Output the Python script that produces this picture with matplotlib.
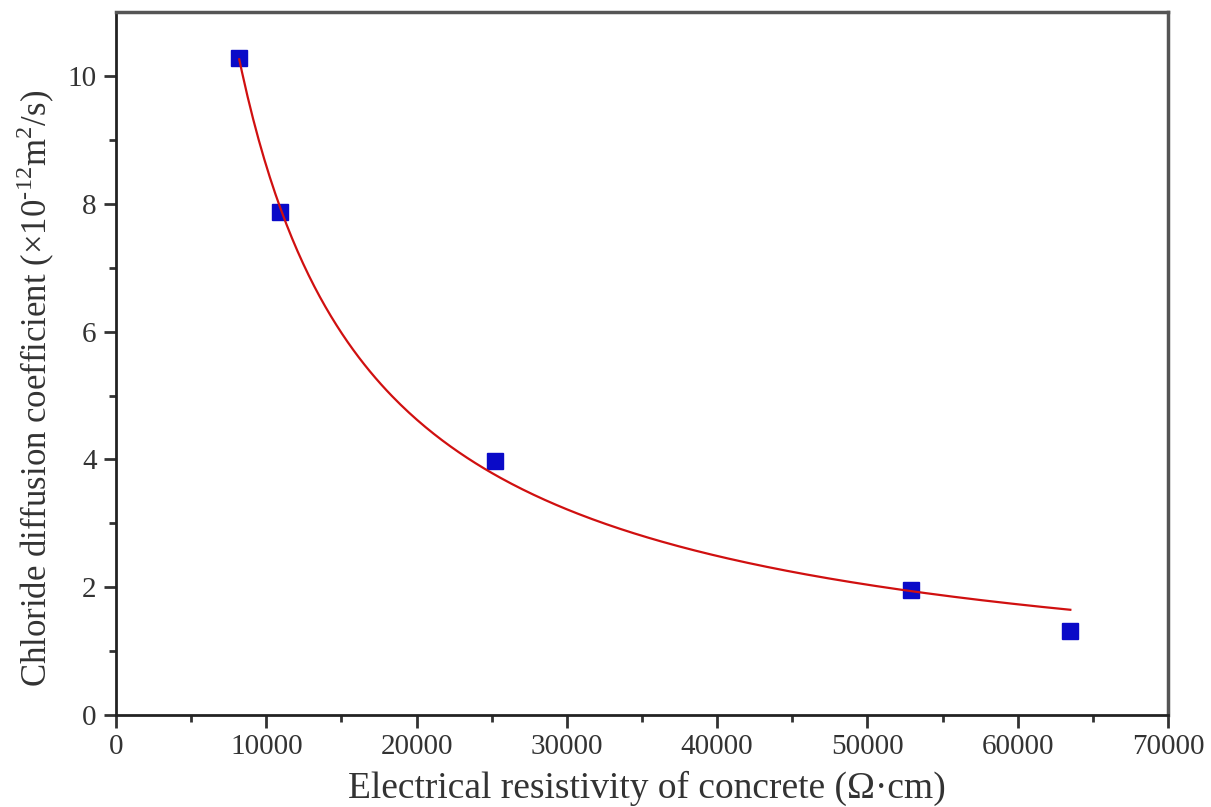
import numpy as np
import matplotlib.pyplot as plt

# measured points (resistivity in ohm.cm, diffusion coefficient in 1e-12 m2/s)
resistivity = [8200, 10900, 25200, 52900, 63500]
diffusion = [10.28, 7.87, 3.97, 1.95, 1.31]

x_ticks = [0, 10000, 20000, 30000, 40000, 50000, 60000, 70000]
y_ticks = [0, 2, 4, 6, 8, 10]

plt.rcParams['font.family'] = ['Liberation Serif', 'DejaVu Serif']
plt.rcParams['mathtext.fontset'] = 'custom'
plt.rcParams['mathtext.rm'] = 'Liberation Serif'

# power-law fit y = a * x^b (weighted in log space ~ least squares on y)
lx = np.log(resistivity)
ly = np.log(diffusion)
b, ln_a = np.polyfit(lx, ly, 1, w=np.array(diffusion))
x_fit = np.linspace(min(resistivity), max(resistivity), 300)
y_fit = np.exp(ln_a) * x_fit ** b

fig = plt.figure(figsize=(12.11, 8.07), dpi=100)
ax = fig.add_axes([0.0958, 0.114, 0.8687, 0.871])

ax.plot(resistivity, diffusion, linestyle="none", marker="s", markersize=11,
        color="#0a0ac8", zorder=3)
ax.plot(x_fit, y_fit, color="#d01010", linewidth=1.6, zorder=4)

ax.set_xlim(0, 70000)
ax.set_ylim(0, 11)
ax.set_xticks(x_ticks)
ax.set_yticks(y_ticks)
ax.set_xticks(np.arange(5000, 70000, 10000), minor=True)
ax.set_yticks([1, 3, 5, 7, 9], minor=True)
ax.tick_params(which="major", direction="out", length=9, width=2, labelsize=21,
               pad=5, colors="#333333", labelcolor="#333333")
ax.tick_params(which="minor", direction="out", length=5, width=2, colors="#333333")
ax.tick_params(top=False, right=False)

for side in ["left", "bottom"]:
    ax.spines[side].set_linewidth(2)
    ax.spines[side].set_color("#222222")
for side in ["top", "right"]:
    ax.spines[side].set_linewidth(2.5)
    ax.spines[side].set_color("#555555")

ax.set_xlabel("Electrical resistivity of concrete (\u03a9\u00b7cm)", fontsize=27,
              color="#333333")
ax.set_ylabel("Chloride diffusion coefficient (\u00d710$^{\\mathrm{\u2010}12}$m$^{2}$/s)",
              fontsize=25, color="#333333")
ax.xaxis.set_label_coords(0.505, -0.079)
ax.yaxis.set_label_coords(-0.056, 0.465)

fig.savefig("out.png", dpi=100)
